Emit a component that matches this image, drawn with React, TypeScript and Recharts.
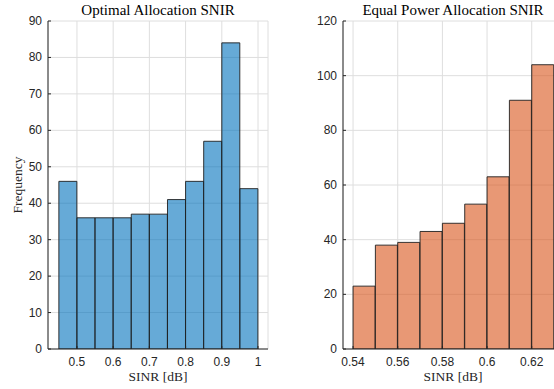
import React from "react";
import {
  ComposedChart,
  Bar,
  XAxis,
  YAxis,
  CartesianGrid,
  Label,
} from "recharts";

// bin centres and counts
const optimalBins = [0.475, 0.525, 0.575, 0.625, 0.675, 0.725, 0.775, 0.825, 0.875, 0.925, 0.975];
const optimalCounts = [46, 36, 36, 36, 37, 37, 41, 46, 57, 84, 44];
const optimalXTicks = [0.5, 0.6, 0.7, 0.8, 0.9, 1];
const optimalYTicks = [0, 10, 20, 30, 40, 50, 60, 70, 80, 90];

const equalBins = [0.545, 0.555, 0.565, 0.575, 0.585, 0.595, 0.605, 0.615, 0.625];
const equalCounts = [23, 38, 39, 43, 46, 53, 63, 91, 104];
const equalXTicks = [0.54, 0.56, 0.58, 0.6, 0.62];
const equalYTicks = [0, 20, 40, 60, 80, 100, 120];

const AXIS = "#262626";
const SANS = "'Liberation Sans', Arial, Helvetica, sans-serif";
const SERIF = "'Liberation Serif', 'Times New Roman', serif";
const TOP = 21;

const BottomTick = (props: any) => {
  const { x, y, payload } = props;
  return (
    <g>
      <line x1={x} y1={y} x2={x} y2={y - 3} stroke={AXIS} />
      <text x={x} y={y + 17} textAnchor="middle" fill={AXIS} fontSize={12} fontFamily={SANS}>
        {payload.value}
      </text>
    </g>
  );
};

const LeftTick = (props: any) => {
  const { x, y, payload } = props;
  return (
    <g>
      <line x1={x} y1={y} x2={x + 3} y2={y} stroke={AXIS} />
      <text x={x - 6} y={y + 4} textAnchor="end" fill={AXIS} fontSize={12} fontFamily={SANS}>
        {payload.value}
      </text>
    </g>
  );
};

const TopTick = (props: any) => {
  const { x, y } = props;
  return <line x1={x} y1={y} x2={x} y2={y + 3} stroke={AXIS} />;
};

const RightTick = (props: any) => {
  const { x, y } = props;
  return <line x1={x} y1={y} x2={x - 3} y2={y} stroke={AXIS} />;
};

// title drawn from the bottom axis box, placed above the plot
const titleContent = (text: string) => (p: any) => {
  const vb = p.viewBox;
  return (
    <text x={vb.x + vb.width / 2} y={TOP - 6} textAnchor="middle" fill="#000" fontSize={15} fontFamily={SERIF}>
      {text}
    </text>
  );
};

const xLabelContent = (text: string) => (p: any) => {
  const vb = p.viewBox;
  return (
    <text x={vb.x + vb.width / 2} y={vb.y + 32} textAnchor="middle" fill={AXIS} fontSize={13.5} fontFamily={SERIF}>
      {text}
    </text>
  );
};

const yLabelContent = (text: string) => (p: any) => {
  const vb = p.viewBox;
  const cx = 22;
  const cy = vb.y + vb.height / 2;
  return (
    <text
      x={cx}
      y={cy}
      transform={`rotate(-90, ${cx}, ${cy})`}
      textAnchor="middle"
      fill={AXIS}
      fontSize={13.5}
      fontFamily={SERIF}
    >
      {text}
    </text>
  );
};

type HistProps = {
  bins: number[];
  counts: number[];
  xTicks: number[];
  yTicks: number[];
  xDomain: [number, number];
  yMax: number;
  color: string;
  title: string;
  yLabel?: string;
  width: number;
  yAxisWidth: number;
  marginRight: number;
};

function Histogram(props: HistProps) {
  const data = props.bins.map((b, i) => ({ x: b, count: props.counts[i] }));
  const yDomain: [number, number] = [0, props.yMax];
  return (
    <ComposedChart
      width={props.width}
      height={389}
      data={data}
      margin={{ top: TOP, right: props.marginRight, bottom: 0, left: 0 }}
      barCategoryGap={0}
      barGap={0}
    >
      <CartesianGrid stroke="#dedede" strokeWidth={1} />
      <XAxis
        dataKey="x"
        type="number"
        domain={props.xDomain}
        allowDataOverflow
        ticks={props.xTicks}
        height={40}
        tickSize={0}
        tickMargin={0}
        tickLine={false}
        tick={BottomTick}
        axisLine={{ stroke: AXIS }}
        interval={0}
      >
        <Label content={xLabelContent("SINR [dB]")} />
        <Label content={titleContent(props.title)} />
      </XAxis>
      <XAxis
        xAxisId="top"
        orientation="top"
        type="number"
        domain={props.xDomain}
        allowDataOverflow
        ticks={props.xTicks}
        height={0}
        tickSize={0}
        tickMargin={0}
        tickLine={false}
        tick={TopTick}
        axisLine={{ stroke: AXIS }}
        interval={0}
      />
      <YAxis
        type="number"
        domain={yDomain}
        allowDataOverflow
        ticks={props.yTicks}
        width={props.yAxisWidth}
        tickSize={0}
        tickMargin={0}
        tickLine={false}
        tick={LeftTick}
        axisLine={{ stroke: AXIS }}
        interval={0}
      >
        {props.yLabel ? <Label content={yLabelContent(props.yLabel)} /> : null}
      </YAxis>
      <YAxis
        yAxisId="right"
        orientation="right"
        type="number"
        domain={yDomain}
        allowDataOverflow
        ticks={props.yTicks}
        width={0}
        tickSize={0}
        tickMargin={0}
        tickLine={false}
        tick={RightTick}
        axisLine={{ stroke: AXIS }}
        interval={0}
      />
      <Bar
        dataKey="count"
        fill={props.color}
        fillOpacity={0.6}
        stroke="#1f1f1f"
        strokeWidth={0.9}
        isAnimationActive={false}
      />
    </ComposedChart>
  );
}

export default function App() {
  return (
    <div
      style={{
        position: "absolute",
        left: 0,
        top: 0,
        width: 554,
        height: 389,
        overflow: "hidden",
        background: "#fff",
      }}
    >
      <div style={{ position: "absolute", left: 0, top: 0 }}>
        <Histogram
          bins={optimalBins}
          counts={optimalCounts}
          xTicks={optimalXTicks}
          yTicks={optimalYTicks}
          xDomain={[0.42, 1.0276]}
          yMax={90}
          color="#0072BD"
          title="Optimal Allocation SNIR"
          yLabel="Frequency"
          width={280}
          yAxisWidth={48}
          marginRight={12}
        />
      </div>
      <div style={{ position: "absolute", left: 280, top: 0 }}>
        <Histogram
          bins={equalBins}
          counts={equalCounts}
          xTicks={equalXTicks}
          yTicks={equalYTicks}
          xDomain={[0.5355, 0.634]}
          yMax={120}
          color="#D95319"
          title="Equal Power Allocation SNIR"
          width={300}
          yAxisWidth={63}
          marginRight={17}
        />
      </div>
    </div>
  );
}
